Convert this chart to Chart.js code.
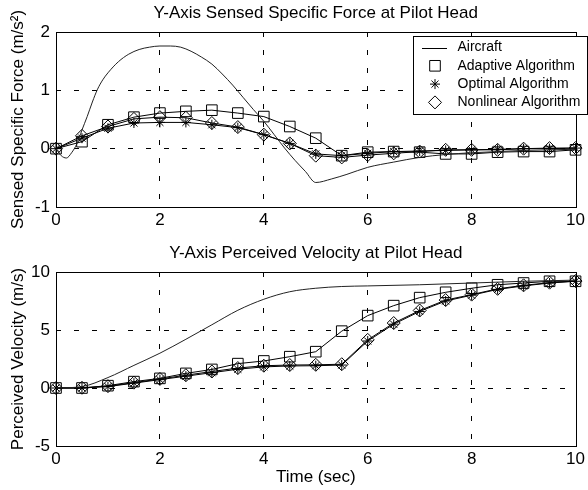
<!DOCTYPE html>
<html>
<head>
<meta charset="utf-8">
<script src="https://cdn.jsdelivr.net/npm/chart.js@4.4.1/dist/chart.umd.min.js"></script>
<style>
  html, body { margin: 0; padding: 0; background: #fff; }
  #wrap { position: relative; width: 588px; height: 490px; }
  canvas { position: absolute; left: 0; }
</style>
</head>
<body>
<div id="wrap">
  <canvas id="forceChart" width="588" height="240" style="top:0"></canvas>
  <canvas id="velChart" width="588" height="250" style="top:240px"></canvas>
</div>
<script>
// --- data ---
const markerTimes = [0, 0.5, 1, 1.5, 2, 2.5, 3, 3.5, 4, 4.5, 5, 5.5, 6, 6.5, 7, 7.5, 8, 8.5, 9, 9.5, 10];

// top plot: sensed specific force (m/s^2)
const aircraftForceTimes = [0, 0.1, 0.2, 0.3, 0.4, 0.5, 0.6, 0.7, 0.8, 0.9, 1.0, 1.2, 1.4, 1.6, 1.8, 2.0, 2.2, 2.4, 2.6, 2.8,
  3.0, 3.2, 3.4, 3.6, 3.8, 4.0, 4.2, 4.4, 4.6, 4.8, 5.0, 5.3, 5.6, 6.0, 6.5, 7.0, 7.5, 8.0, 8.5, 9.0, 9.5, 10];
const aircraftForce = [0, -0.12, -0.16, -0.07, 0.08, 0.32, 0.55, 0.8, 1.02, 1.18, 1.30, 1.49, 1.62, 1.70, 1.74, 1.76, 1.76, 1.74, 1.67, 1.57,
  1.45, 1.28, 1.09, 0.88, 0.67, 0.47, 0.24, 0.01, -0.2, -0.39, -0.58, -0.52, -0.44, -0.32, -0.23, -0.15, -0.10, -0.07, -0.05, -0.03, -0.02, -0.01];
const adaptiveForce = [0, 0.12, 0.41, 0.54, 0.61, 0.64, 0.66, 0.61, 0.55, 0.38, 0.18, -0.12, -0.06, -0.05, -0.06, -0.09, -0.09, -0.06, -0.05, -0.05, -0.02];
const optimalForce = [0, 0.18, 0.35, 0.44, 0.45, 0.45, 0.41, 0.36, 0.24, 0.09, -0.09, -0.12, -0.08, -0.05, -0.04, -0.03, -0.02, -0.01, 0.0, 0.0, 0.01];
const nonlinearForce = [0, 0.22, 0.38, 0.51, 0.54, 0.53, 0.44, 0.37, 0.24, 0.09, -0.12, -0.15, -0.11, -0.08, -0.05, -0.02, -0.02, -0.02, 0.0, 0.01, 0.01];

// bottom plot: perceived velocity (m/s)
const aircraftVelTimes = [0, 0.5, 1.0, 1.5, 2.0, 2.5, 3.0, 3.5, 4.0, 4.5, 5.0, 5.5, 6.0, 7.0, 8.0, 9.0, 10];
const aircraftVel = [0, 0.12, 0.9, 1.95, 3.0, 4.2, 5.45, 6.7, 7.65, 8.3, 8.6, 8.75, 8.8, 8.9, 9.05, 9.2, 9.3];
const adaptiveVel = [0, 0.0, 0.2, 0.55, 0.83, 1.26, 1.6, 2.1, 2.33, 2.7, 3.13, 4.9, 6.24, 7.1, 7.79, 8.25, 8.6, 8.9, 9.05, 9.2, 9.2];
const optimalVel = [0, 0, 0.12, 0.42, 0.72, 1.02, 1.32, 1.62, 1.82, 1.9, 1.92, 1.98, 4.05, 5.5, 6.6, 7.5, 8.0, 8.5, 8.8, 9.05, 9.2];
const nonlinearVel = [0, 0.02, 0.16, 0.46, 0.78, 1.1, 1.42, 1.72, 1.92, 1.98, 2.0, 2.05, 4.15, 5.6, 6.68, 7.58, 8.05, 8.55, 8.85, 9.08, 9.22];

const seriesNames = ['Aircraft', 'Adaptive Algorithm', 'Optimal Algorithm', 'Nonlinear Algorithm'];
const timeTicks = [0, 2, 4, 6, 8, 10];

Chart.defaults.font.family = '"Liberation Sans", Arial, sans-serif';
Chart.defaults.color = '#000';

const INK = '#000';
const GRID_DASH = [5, 13];

function pts(xs, ys) {
  return xs.map((x, i) => ({ x, y: ys[i] }));
}

function makeDatasets(airT, air, adaptive, optimal, nonlinear) {
  const markerSet = (label, data, style, radius) => ({
    label,
    data: pts(markerTimes, data),
    showLine: true,
    borderColor: INK,
    borderWidth: 1,
    pointStyle: style,
    pointRadius: radius,
    pointBorderColor: INK,
    pointBackgroundColor: 'rgba(0,0,0,0)',
    pointBorderWidth: 1,
    clip: false,
  });
  return [
    {
      label: seriesNames[0],
      data: pts(airT, air),
      showLine: true,
      borderColor: '#222',
      borderWidth: 1,
      pointRadius: 0,
      cubicInterpolationMode: 'monotone',
    },
    markerSet(seriesNames[1], adaptive, 'rect', 7.5),
    markerSet(seriesNames[2], optimal, 'star', 5),
    markerSet(seriesNames[3], nonlinear, 'rectRot', 6.5),
  ];
}

// solid box around the plot area (MATLAB style)
const frame = {
  id: 'frame',
  beforeDatasetsDraw(chart) {
    const { ctx, chartArea: a } = chart;
    ctx.save();
    ctx.strokeStyle = INK;
    ctx.lineWidth = 1;
    ctx.strokeRect(Math.round(a.left) + 0.5, Math.round(a.top) + 0.5,
      Math.round(a.right - a.left), Math.round(a.bottom - a.top));
    ctx.restore();
  },
};

// boxed legend sitting inside the top-right corner
const boxLegend = {
  id: 'boxLegend',
  afterDraw(chart, args, opts) {
    if (!opts.show) return;
    const { ctx } = chart;
    const { x, y, w, h, rowStart, rowGap } = opts;
    ctx.save();
    ctx.fillStyle = '#fff';
    ctx.fillRect(x, y, w, h);
    ctx.strokeStyle = INK;
    ctx.lineWidth = 1;
    ctx.strokeRect(x + 0.5, y + 0.5, w - 1, h - 1);
    ctx.font = '14px "Liberation Sans", Arial, sans-serif';
    ctx.textBaseline = 'middle';
    chart.data.datasets.forEach((ds, i) => {
      const cy = y + rowStart + i * rowGap;
      ctx.strokeStyle = INK;
      ctx.fillStyle = '#fff';
      if (ds.pointRadius > 0) {
        Chart.helpers.drawPoint(ctx, {
          pointStyle: ds.pointStyle, radius: ds.pointRadius, borderWidth: 1, rotation: 0,
        }, x + 22, cy);
      } else {
        ctx.beginPath();
        ctx.moveTo(x + 9, Math.round(cy) + 0.5);
        ctx.lineTo(x + 34, Math.round(cy) + 0.5);
        ctx.stroke();
      }
      ctx.fillStyle = INK;
      ctx.fillText(ds.label, x + 44.5, cy);
    });
    ctx.restore();
  },
};

function gridColor(c) {
  const v = c.tick.value;
  return (v === c.scale.min || v === c.scale.max) ? 'rgba(0,0,0,0)' : INK;
}

function makeOptions(cfg) {
  return {
    responsive: false,
    animation: false,
    events: [],
    layout: { padding: { left: 0, right: 11, top: 0, bottom: 0 } },
    scales: {
      x: {
        type: 'linear',
        min: 0,
        max: 10,
        afterBuildTicks: (s) => { s.ticks = timeTicks.map((v) => ({ value: v })); },
        ticks: { font: { size: 17 }, color: INK, padding: 3, maxRotation: 0 },
        grid: { color: gridColor, drawTicks: false, lineWidth: 1 },
        border: { display: false, dash: GRID_DASH },
        title: {
          display: !!cfg.xTitle,
          text: cfg.xTitle || '',
          font: { size: 17 },
          color: INK,
          padding: { top: 0, bottom: 2 },
        },
        afterFit: (s) => { s.height = cfg.xHeight; },
      },
      y: {
        min: cfg.yMin,
        max: cfg.yMax,
        afterBuildTicks: (s) => { s.ticks = cfg.yTicks.map((v) => ({ value: v })); },
        ticks: { font: { size: 17 }, color: INK, padding: 6 },
        grid: { color: gridColor, drawTicks: false, lineWidth: 1 },
        border: { display: false, dash: GRID_DASH },
        title: {
          display: true,
          text: cfg.yTitle,
          font: { size: 17 },
          color: INK,
          padding: { top: 8, bottom: 0 },
        },
        afterFit: (s) => { s.width = 56; },
      },
    },
    plugins: {
      legend: { display: false },
      tooltip: { enabled: false },
      title: {
        display: true,
        text: cfg.title,
        fullSize: false,
        font: { size: 17, weight: 'normal' },
        color: INK,
        padding: { top: 3, bottom: 8.6 },
      },
      boxLegend: cfg.legend || { show: false },
    },
  };
}

new Chart(document.getElementById('forceChart'), {
  type: 'scatter',
  data: { datasets: makeDatasets(aircraftForceTimes, aircraftForce, adaptiveForce, optimalForce, nonlinearForce) },
  options: makeOptions({
    title: 'Y-Axis Sensed Specific Force at Pilot Head',
    yTitle: 'Sensed Specific Force (m/s²)',
    yMin: -1,
    yMax: 2,
    yTicks: [-1, 0, 1, 2],
    xHeight: 33,
    legend: { show: true, x: 413, y: 36, w: 175, h: 79, rowStart: 11.5, rowGap: 18.3 },
  }),
  plugins: [frame, boxLegend],
});

new Chart(document.getElementById('velChart'), {
  type: 'scatter',
  data: { datasets: makeDatasets(aircraftVelTimes, aircraftVel, adaptiveVel, optimalVel, nonlinearVel) },
  options: makeOptions({
    title: 'Y-Axis Perceived Velocity at Pilot Head',
    yTitle: 'Perceived Velocity (m/s)',
    xTitle: 'Time (sec)',
    yMin: -5,
    yMax: 10,
    yTicks: [-5, 0, 5, 10],
    xHeight: 44,
  }),
  plugins: [frame, boxLegend],
});
</script>
</body>
</html>
